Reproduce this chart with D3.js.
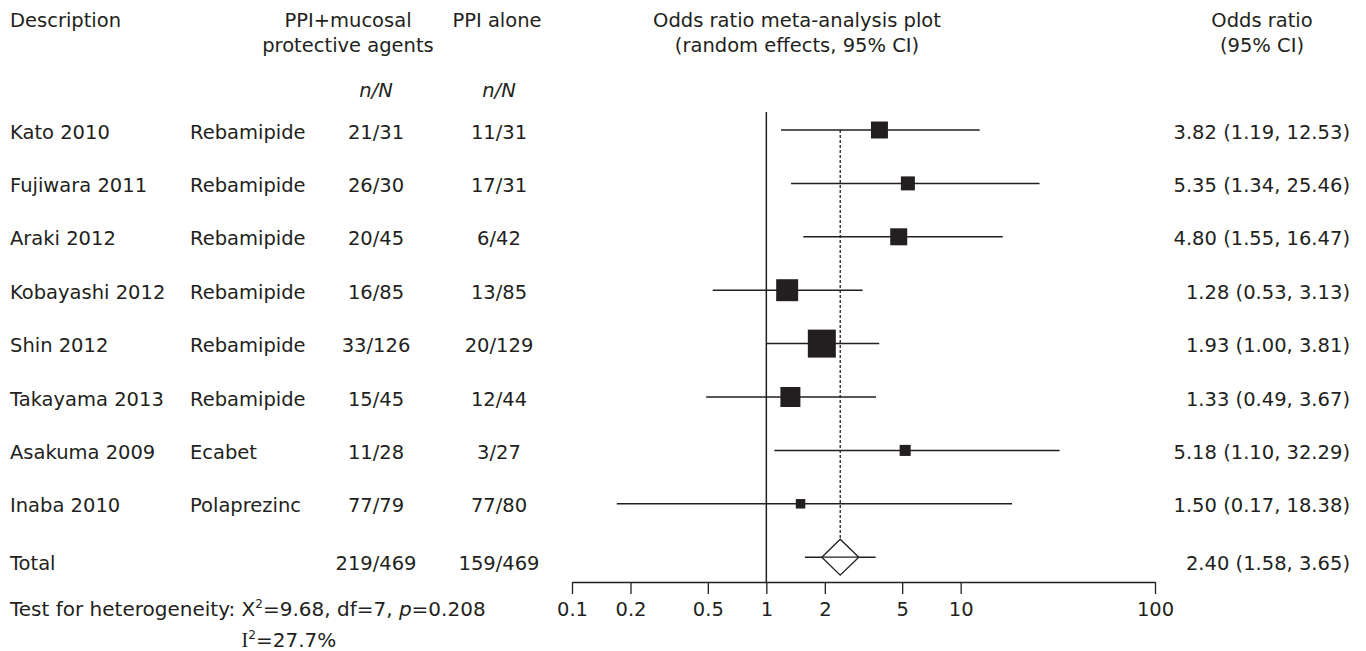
<!DOCTYPE html>
<html>
<head>
<meta charset="utf-8">
<script src="https://cdn.jsdelivr.net/npm/d3@7.9.0/dist/d3.min.js"></script>
<style>
  body { margin: 0; background: #fff; }
  svg text { font-family: "DejaVu Sans", Verdana, sans-serif; font-size: 19.5px; fill: #231f20; }
</style>
</head>
<body>
<svg id="chart" width="1366" height="651"></svg>
<script>
// study rows
const studies = ['Kato 2010', 'Fujiwara 2011', 'Araki 2012', 'Kobayashi 2012', 'Shin 2012', 'Takayama 2013', 'Asakuma 2009', 'Inaba 2010'];
const agents = ['Rebamipide', 'Rebamipide', 'Rebamipide', 'Rebamipide', 'Rebamipide', 'Rebamipide', 'Ecabet', 'Polaprezinc'];
const treatEvents = [21, 26, 20, 16, 33, 15, 11, 77];
const treatTotal = [31, 30, 45, 85, 126, 45, 28, 79];
const ctrlEvents = [11, 17, 6, 13, 20, 12, 3, 77];
const ctrlTotal = [31, 31, 42, 85, 129, 44, 27, 80];
const oddsRatio = [3.82, 5.35, 4.80, 1.28, 1.93, 1.33, 5.18, 1.50];
const ciLow = [1.19, 1.34, 1.55, 0.53, 1.00, 0.49, 1.10, 0.17];
const ciHigh = [12.53, 25.46, 16.47, 3.13, 3.81, 3.67, 32.29, 18.38];
const weights = [10.9, 7.4, 10.9, 18.2, 29.6, 15.1, 4.6, 3.4];

// pooled
const totalOR = 2.40, totalLow = 1.58, totalHigh = 3.65;
const diamondLow = 1.93, diamondHigh = 2.99;
const totalTreat = [219, 469], totalCtrl = [159, 469];

const tickValues = [0.1, 0.2, 0.5, 1, 2, 5, 10, 100];

const svg = d3.select('#chart');
const ink = '#231f20';

const x = d3.scaleLog().domain([0.1, 100]).range([572, 1155]);
const y = d3.scaleLinear().domain([0, 1]).range([130, 183.4]); // row index -> line y
const size = d3.scaleSqrt().domain([0, d3.max(weights)]).range([0, 28]);

const colAgent = 190, colTreat = 376, colCtrl = 499, colOR = 1350;
const axisY = 582;

// headers
const head = svg.append('g');
head.append('text').attr('x', 10).attr('y', 27).text('Description');
head.append('text').attr('x', 348).attr('y', 27).attr('text-anchor', 'middle').text('PPI+mucosal');
head.append('text').attr('x', 348).attr('y', 52).attr('text-anchor', 'middle').text('protective agents');
head.append('text').attr('x', 497).attr('y', 27).attr('text-anchor', 'middle').text('PPI alone');
head.append('text').attr('x', colTreat).attr('y', 97).attr('text-anchor', 'middle').style('font-style', 'italic').text('n/N');
head.append('text').attr('x', colCtrl).attr('y', 97).attr('text-anchor', 'middle').style('font-style', 'italic').text('n/N');
head.append('text').attr('x', 797).attr('y', 27).attr('text-anchor', 'middle').text('Odds ratio meta-analysis plot');
head.append('text').attr('x', 797).attr('y', 52).attr('text-anchor', 'middle').text('(random effects, 95% CI)');
head.append('text').attr('x', 1262).attr('y', 27).attr('text-anchor', 'middle').text('Odds ratio');
head.append('text').attr('x', 1262).attr('y', 52).attr('text-anchor', 'middle').text('(95% CI)');

// line of no effect and pooled estimate
svg.append('line')
    .attr('x1', x(1)).attr('x2', x(1))
    .attr('y1', 112).attr('y2', axisY)
    .attr('stroke', ink).attr('stroke-width', 1.5);

svg.append('line')
    .attr('x1', x(totalOR)).attr('x2', x(totalOR))
    .attr('y1', y(0)).attr('y2', y(studies.length) - 18)
    .attr('stroke', ink).attr('stroke-width', 1.3)
    .attr('stroke-dasharray', '3,2');

// study rows
const fmt = d3.format('.2f');
studies.forEach((name, i) => {
    const ly = y(i);
    const ty = ly + 8.5;
    svg.append('text').attr('x', 10).attr('y', ty).text(name);
    svg.append('text').attr('x', colAgent).attr('y', ty).text(agents[i]);
    svg.append('text').attr('x', colTreat).attr('y', ty).attr('text-anchor', 'middle')
        .text(`${treatEvents[i]}/${treatTotal[i]}`);
    svg.append('text').attr('x', colCtrl).attr('y', ty).attr('text-anchor', 'middle')
        .text(`${ctrlEvents[i]}/${ctrlTotal[i]}`);
    svg.append('text').attr('x', colOR).attr('y', ty).attr('text-anchor', 'end')
        .text(`${fmt(oddsRatio[i])} (${fmt(ciLow[i])}, ${fmt(ciHigh[i])})`);

    svg.append('line')
        .attr('x1', x(ciLow[i])).attr('x2', x(ciHigh[i]))
        .attr('y1', ly).attr('y2', ly)
        .attr('stroke', ink).attr('stroke-width', 1.5);

    const s = size(weights[i]);
    svg.append('rect')
        .attr('x', x(oddsRatio[i]) - s / 2).attr('y', ly - s / 2)
        .attr('width', s).attr('height', s)
        .attr('fill', ink);
});

// total row
const tly = y(studies.length);
const tty = tly + 13;
svg.append('text').attr('x', 10).attr('y', tty).text('Total');
svg.append('text').attr('x', colTreat).attr('y', tty).attr('text-anchor', 'middle').text(`${totalTreat[0]}/${totalTreat[1]}`);
svg.append('text').attr('x', colCtrl).attr('y', tty).attr('text-anchor', 'middle').text(`${totalCtrl[0]}/${totalCtrl[1]}`);
svg.append('text').attr('x', colOR).attr('y', tty).attr('text-anchor', 'end')
    .text(`${fmt(totalOR)} (${fmt(totalLow)}, ${fmt(totalHigh)})`);

svg.append('line')
    .attr('x1', x(totalLow)).attr('x2', x(totalHigh))
    .attr('y1', tly).attr('y2', tly)
    .attr('stroke', ink).attr('stroke-width', 1.5);

svg.append('path')
    .attr('d', `M${x(diamondLow)},${tly} L${x(totalOR)},${tly - 18} L${x(diamondHigh)},${tly} L${x(totalOR)},${tly + 18} Z`)
    .attr('fill', '#fff').attr('stroke', ink).attr('stroke-width', 1.3);
svg.append('line')
    .attr('x1', x(diamondLow)).attr('x2', x(diamondHigh))
    .attr('y1', tly).attr('y2', tly)
    .attr('stroke', ink).attr('stroke-width', 1.3);

// axis
const axis = d3.axisBottom(x)
    .tickValues(tickValues)
    .tickFormat(d => d)
    .tickSize(12)
    .tickSizeOuter(0);

const gAxis = svg.append('g')
    .attr('transform', `translate(0,${axisY})`)
    .call(axis);
gAxis.select('.domain').attr('stroke', ink).attr('stroke-width', 1.5);
gAxis.selectAll('.tick line').attr('stroke', ink).attr('stroke-width', 1.3);
gAxis.selectAll('.tick text')
    .attr('y', 20)
    .style('font-family', '"DejaVu Sans", Verdana, sans-serif')
    .style('font-size', '19.5px')
    .attr('fill', ink);

// heterogeneity
const het = svg.append('text').attr('x', 10).attr('y', 616).style('font-size', '20px');
const hetLead = het.append('tspan').text('Test for heterogeneity: ');
het.append('tspan').text('X');
het.append('tspan').attr('dy', -8).style('font-size', '12px').text('2');
het.append('tspan').attr('dy', 8).text('=9.68, df=7, ');
het.append('tspan').style('font-style', 'italic').text('p');
het.append('tspan').text('=0.208');

// I² sits under the X²
const i2x = 10 + hetLead.node().getComputedTextLength();
const i2 = svg.append('text').attr('x', i2x).attr('y', 647).style('font-size', '20px');
i2.append('tspan').style('font-family', '"Liberation Serif", serif').text('I');
i2.append('tspan').attr('dy', -8).style('font-size', '12px').text('2');
i2.append('tspan').attr('dy', 8).text('=27.7%');
</script>
</body>
</html>
